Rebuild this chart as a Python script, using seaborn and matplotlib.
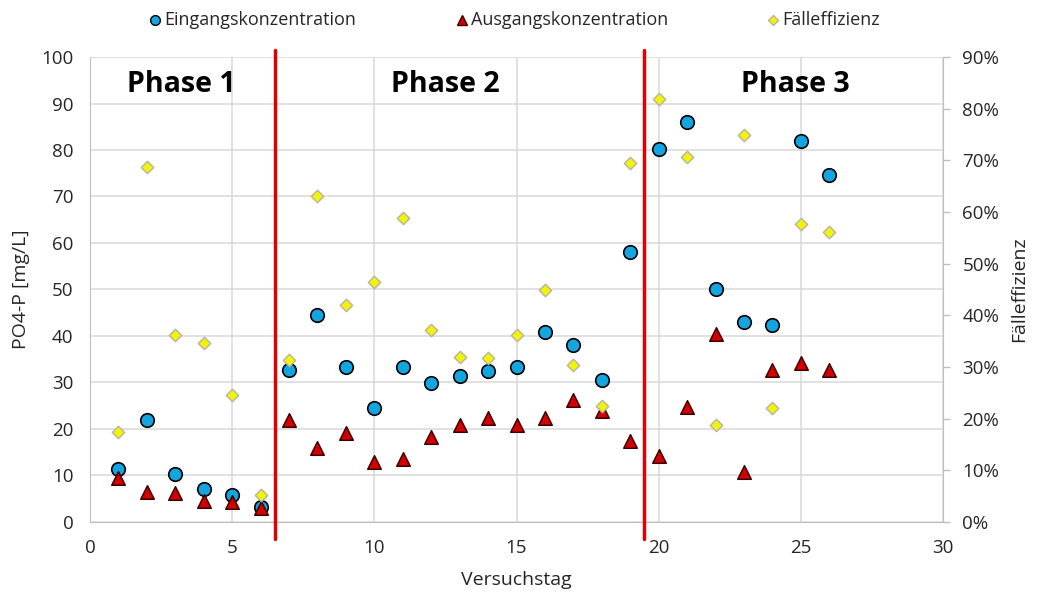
import matplotlib.pyplot as plt
import seaborn as sns
import pandas as pd
from matplotlib.ticker import PercentFormatter
from matplotlib.lines import Line2D

days = list(range(1, 27))
eingang = [11.4, 21.9, 10.3, 7.1, 5.8, 3.2, 32.7, 44.5, 33.3, 24.5, 33.3, 29.9, 31.4,
           32.5, 33.3, 40.9, 38.1, 30.5, 58.1, 80.2, 86.0, 50.1, 43.0, 42.4, 81.9, 74.6]
ausgang = [9.5, 6.5, 6.2, 4.5, 4.2, 3.0, 22.0, 16.0, 19.2, 12.8, 13.5, 18.3, 20.8,
           22.3, 20.8, 22.3, 26.2, 23.8, 17.5, 14.2, 24.8, 40.5, 10.7, 32.7, 34.2, 32.7]
effizienz = [17.4, 68.7, 36.2, 34.6, 24.6, 5.2, 31.4, 63.1, 42.0, 46.4, 58.8, 37.2, 31.9,
             31.7, 36.2, 44.9, 30.4, 22.5, 69.5, 81.9, 70.6, 18.8, 74.9, 22.1, 57.7, 56.1]
phase_grenzen = [6.5, 19.5]
phasen = ["Phase 1", "Phase 2", "Phase 3"]
phase_x = [3.2, 12.5, 24.8]
labels = ["Eingangskonzentration", "Ausgangskonzentration", "Fälleffizienz"]

df = pd.DataFrame({"Tag": days, "Eingang": eingang, "Ausgang": ausgang,
                   "Effizienz": effizienz})

sns.set_style("white")
plt.rcParams["font.family"] = ["Open Sans", "DejaVu Sans"]

fig = plt.figure(figsize=(10.38, 5.95), dpi=100)
ax = fig.add_axes([0.0867, 0.1227, 0.8218, 0.7815])
ax2 = ax.twinx()

blue = "#12a5e0"
red = "#d40000"
yellow = "#f2f20a"
txt = "#262626"

sns.scatterplot(data=df, x="Tag", y="Eingang", ax=ax, marker="o", s=95,
                color=blue, edgecolor="black", linewidth=1.2, zorder=4)
sns.scatterplot(data=df, x="Tag", y="Ausgang", ax=ax, marker="^", s=95,
                color=red, edgecolor="#3a0000", linewidth=1.1, zorder=4)
sns.scatterplot(data=df, x="Tag", y="Effizienz", ax=ax2, marker="D", s=40,
                color=yellow, edgecolor="#b5b5a0", linewidth=1.0, zorder=5)

ax.set_xlim(0, 30)
ax.set_ylim(0, 100)
ax.set_xticks(range(0, 31, 5))
ax.set_yticks(range(0, 101, 10))
ax2.set_ylim(0, 90)
ax2.set_yticks(range(0, 91, 10))
ax2.yaxis.set_major_formatter(PercentFormatter(decimals=0))

ax.grid(True, color="#d9d9d9", linewidth=1.1)
ax.set_axisbelow(True)
for a in (ax, ax2):
    for s in a.spines.values():
        s.set_visible(False)
    a.tick_params(length=0, labelsize=13.5, colors=txt, pad=12)
ax.spines["left"].set_visible(True)
ax.spines["left"].set_color("#bfbfbf")
ax.spines["bottom"].set_visible(True)
ax.spines["bottom"].set_color("#bfbfbf")
ax2.spines["right"].set_visible(True)
ax2.spines["right"].set_color("#bfbfbf")
ax2.tick_params(axis="y", length=5, width=1, direction="out", color="#bfbfbf",
                pad=9, labelcolor=txt)

ax.set_xlabel("Versuchstag", fontsize=14, color=txt, labelpad=10)
ax.set_ylabel("PO4-P [mg/L]", fontsize=14, color=txt, labelpad=8)
ax2.set_ylabel("Fälleffizienz", fontsize=14, color=txt, labelpad=8)

for xg in phase_grenzen:
    ax.plot([xg, xg], [-3.7, 101.5], color="#e00000", linewidth=2.5, zorder=6,
            clip_on=False)

for name, px in zip(phasen, phase_x):
    ax.text(px, 94, name, ha="center", va="center", fontsize=20.5,
            fontweight="bold", color="black", zorder=7)

# legend along the top, entries placed like the original
leg_y = 0.9664
leg_marker_x = [0.1493, 0.4451, 0.7447]
leg_styles = [
    dict(marker="o", markersize=7, markerfacecolor=blue, markeredgecolor="black"),
    dict(marker="^", markersize=7, markerfacecolor=red, markeredgecolor="#3a0000"),
    dict(marker="D", markersize=5, markerfacecolor=yellow, markeredgecolor="#b5b5a0"),
]
for lx, st, lab in zip(leg_marker_x, leg_styles, labels):
    fig.add_artist(Line2D([lx], [leg_y], transform=fig.transFigure,
                          linestyle="none", **st))
    fig.text(lx + 0.0085, leg_y, lab, ha="left", va="center", fontsize=13,
             color=txt)

plt.savefig("out.png", dpi=100)
